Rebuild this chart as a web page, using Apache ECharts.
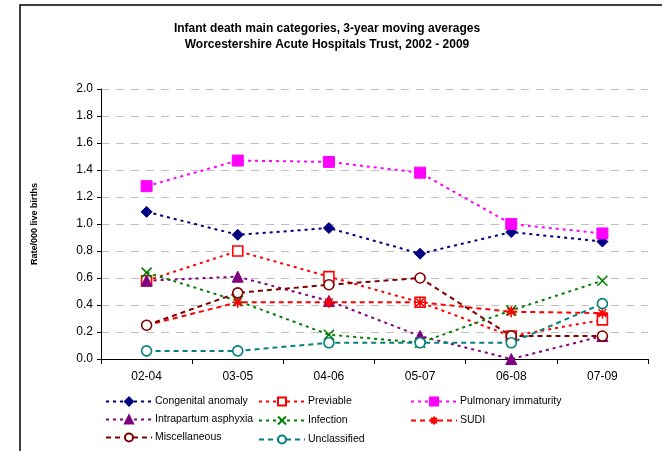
<!DOCTYPE html>
<html>
<head>
<meta charset="utf-8">
<script src="https://cdn.jsdelivr.net/npm/echarts@6/dist/echarts.min.js"></script>
<style>html,body{margin:0;padding:0;background:#fff}#c{width:662px;height:451px}</style>
</head>
<body>
<div id="c"></div>
<script>
var categories = ['02-04','03-05','04-06','05-07','06-08','07-09'];
var congenital = [1.09, 0.92, 0.97, 0.78, 0.94, 0.87];
var previable = [0.58, 0.80, 0.61, 0.42, 0.17, 0.29];
var pulmonary = [1.28, 1.47, 1.46, 1.38, 1.00, 0.93];
var intrapartum = [0.58, 0.61, 0.43, 0.17, 0.00, 0.17];
var infection = [0.64, 0.43, 0.18, 0.12, 0.36, 0.58];
var sudi = [0.25, 0.42, 0.42, 0.42, 0.35, 0.34];
var misc = [0.25, 0.49, 0.55, 0.60, 0.17, 0.17];
var unclassified = [0.06, 0.06, 0.12, 0.12, 0.12, 0.41];
var yTicks = [0, 0.2, 0.4, 0.6, 0.8, 1.0, 1.2, 1.4, 1.6, 1.8, 2.0];

var FONT = 'Liberation Sans, Arial, sans-serif';
var XPATH = 'path://M0,0L10,10M10,0L0,10';
var STAR = 'path://M5,0L5,10M0,5L10,5M1.5,1.5L8.5,8.5M8.5,1.5L1.5,8.5';

function mk(name, data, color, lineType, symbol, size, fill) {
  var item = fill ? {color: color, borderColor: color, borderWidth: 1}
                  : {color: symbol.indexOf('path') === 0 ? 'none' : '#fff', borderColor: color, borderWidth: 1.6};
  return {
    name: name, type: 'line', data: data,
    symbol: symbol, symbolSize: size,
    lineStyle: {color: color, width: 2, type: lineType},
    itemStyle: item,
    emphasis: {disabled: true},
    z: 3
  };
}
var DOT = [3, 4];
var DASH = [5, 4];

function leg(left, names) {
  return {left: left, top: 396, height: 60, padding: 0, orient: 'vertical',
    itemWidth: 46, itemHeight: 10, itemGap: 7, data: names,
    textStyle: {fontSize: 10.5, color: '#000', fontFamily: FONT, padding: [0, 0, 0, -2]}};
}

var chart = echarts.init(document.getElementById('c'), null, {renderer: 'canvas'});
chart.setOption({
  animation: false,
  textStyle: {fontFamily: FONT},
  title: {
    text: 'Infant death main categories, 3-year moving averages\nWorcestershire Acute Hospitals Trust, 2002 - 2009',
    left: 322, top: 16, textAlign: 'center',
    textStyle: {fontSize: 12, fontWeight: 'bold', color: '#000', lineHeight: 16, fontFamily: FONT}
  },
  graphic: [{
    type: 'rect', shape: {x: 20, y: 5, width: 800, height: 600},
    style: {fill: 'none', stroke: '#000', lineWidth: 1.5}, silent: true
  }],
  grid: {left: 101, top: 89, width: 547, height: 270, containLabel: false},
  xAxis: {
    type: 'category', data: categories, boundaryGap: true,
    axisLine: {lineStyle: {color: '#000', width: 1}},
    axisTick: {show: true, inside: false, length: 5, alignWithLabel: false, lineStyle: {color: '#000'}},
    axisLabel: {color: '#000', fontSize: 12, margin: 12, fontFamily: FONT},
    splitLine: {show: false}
  },
  yAxis: {
    type: 'value', min: 0, max: 2, interval: 0.2,
    name: 'Rate/000 live births', nameLocation: 'middle', nameGap: 62, nameRotate: 90,
    nameTextStyle: {fontSize: 9, fontWeight: 'bold', color: '#000', fontFamily: FONT},
    axisLine: {show: true, lineStyle: {color: '#000', width: 1}},
    axisTick: {show: true, length: 4, lineStyle: {color: '#000'}},
    axisLabel: {color: '#000', fontSize: 12, margin: 8, fontFamily: FONT,
      formatter: function (v) { return v.toFixed(1); }},
    splitLine: {show: true, lineStyle: {color: '#c0c0c0', type: [8, 7], width: 1}}
  },
  legend: [
    leg(105, ['Congenital anomaly', 'Intrapartum asphyxia', 'Miscellaneous']),
    leg(258, ['Previable', 'Infection', 'Unclassified']),
    leg(410, ['Pulmonary immaturity', 'SUDI'])
  ],
  series: [
    mk('Congenital anomaly', congenital, '#000080', DOT, 'diamond', 11, true),
    mk('Previable', previable, '#FF0000', DOT, 'rect', 10, false),
    mk('Pulmonary immaturity', pulmonary, '#FF00FF', DOT, 'rect', 11, true),
    mk('Intrapartum asphyxia', intrapartum, '#800080', DOT, 'triangle', 11, true),
    mk('Infection', infection, '#008000', DOT, XPATH, 10, false),
    mk('SUDI', sudi, '#FF0000', DASH, STAR, 11, false),
    mk('Miscellaneous', misc, '#800000', DASH, 'circle', 10, false),
    mk('Unclassified', unclassified, '#008080', DASH, 'circle', 10, false)
  ]
});
</script>
</body>
</html>
